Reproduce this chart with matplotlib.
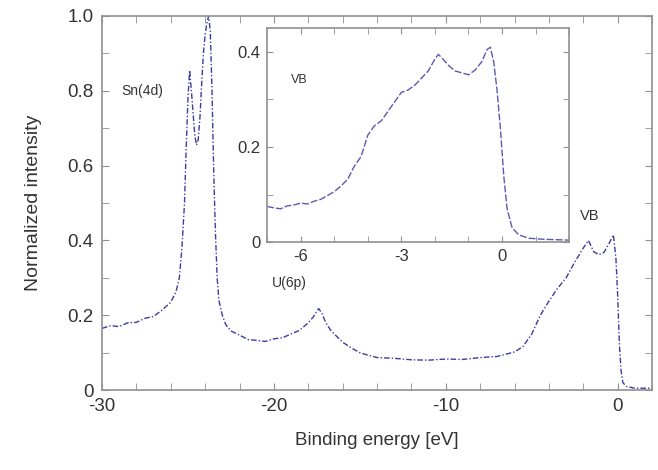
import matplotlib
matplotlib.use("Agg")
import matplotlib.pyplot as plt
from matplotlib.ticker import MultipleLocator

plt.rcParams['font.family'] = ['Liberation Sans', 'DejaVu Sans']
plt.rcParams['axes.unicode_minus'] = False

# Main spectrum
energy = [-30.0, -29.5, -29.0, -28.5, -28.0, -27.5, -27.0, -26.5, -26.0, -25.7,
          -25.5, -25.35, -25.2, -25.1, -25.0, -24.9, -24.8, -24.7, -24.6, -24.5,
          -24.4, -24.3, -24.2, -24.1, -24.0, -23.9, -23.8, -23.7, -23.6, -23.5,
          -23.4, -23.3, -23.2, -23.0, -22.8, -22.5, -22.0, -21.5, -21.0, -20.5,
          -20.0, -19.5, -19.0, -18.5, -18.0, -17.7, -17.4, -17.2, -17.0, -16.7,
          -16.4, -16.0, -15.5, -15.0, -14.5, -14.0, -13.0, -12.0, -11.0, -10.0,
          -9.0, -8.0, -7.0, -6.5, -6.0, -5.5, -5.0, -4.5, -4.0, -3.5,
          -3.0, -2.5, -2.0, -1.7, -1.4, -1.1, -0.8, -0.5, -0.25, -0.1,
          0.0, 0.1, 0.2, 0.3, 0.5, 1.0, 1.5, 2.0]
intensity = [0.165, 0.172, 0.170, 0.180, 0.181, 0.192, 0.197, 0.214, 0.235, 0.262,
             0.300, 0.380, 0.500, 0.650, 0.780, 0.855, 0.800, 0.740, 0.680, 0.655,
             0.670, 0.730, 0.820, 0.900, 0.950, 0.980, 1.000, 0.960, 0.800, 0.580,
             0.420, 0.300, 0.240, 0.200, 0.175, 0.158, 0.147, 0.135, 0.133, 0.130,
             0.137, 0.140, 0.150, 0.160, 0.180, 0.196, 0.218, 0.205, 0.182, 0.160,
             0.146, 0.128, 0.113, 0.100, 0.093, 0.087, 0.085, 0.081, 0.080, 0.083,
             0.082, 0.087, 0.090, 0.096, 0.102, 0.117, 0.150, 0.200, 0.238, 0.272,
             0.300, 0.342, 0.380, 0.400, 0.370, 0.362, 0.368, 0.392, 0.415, 0.350,
             0.250, 0.120, 0.050, 0.020, 0.010, 0.005, 0.005, 0.005]

# Inset: valence band
vb_energy = [-7.0, -6.8, -6.6, -6.4, -6.2, -6.0, -5.8, -5.6, -5.4, -5.2,
             -5.0, -4.8, -4.6, -4.4, -4.2, -4.0, -3.8, -3.6, -3.4, -3.2,
             -3.0, -2.8, -2.6, -2.4, -2.2, -2.0, -1.9, -1.8, -1.6, -1.4,
             -1.2, -1.0, -0.8, -0.6, -0.45, -0.35, -0.25, -0.15, -0.05, 0.05,
             0.15, 0.3, 0.5, 0.8, 1.2, 1.6, 2.0]
vb_intensity = [0.075, 0.072, 0.070, 0.076, 0.078, 0.082, 0.080, 0.086, 0.090, 0.098,
                0.106, 0.118, 0.132, 0.160, 0.180, 0.225, 0.245, 0.255, 0.275, 0.295,
                0.315, 0.320, 0.330, 0.345, 0.360, 0.385, 0.395, 0.388, 0.372, 0.360,
                0.356, 0.352, 0.362, 0.380, 0.405, 0.410, 0.380, 0.320, 0.240, 0.140,
                0.070, 0.030, 0.015, 0.008, 0.006, 0.005, 0.004]

spine_col = '#909090'
text_col = '#333333'

fig = plt.figure(figsize=(6.58, 4.70), dpi=100)
ax = fig.add_axes([0.155, 0.170, 0.836, 0.796])
ax.plot(energy, intensity, color='#3c3ca0', lw=1.0, ls=(0, (4, 1.5, 1, 1.5)))
ax.set_xlim(-30, 2)
ax.set_ylim(0, 1.0)
ax.set_xticks([-30, -20, -10, 0])
ax.set_xticklabels(['-30', '-20', '-10', '0'])
ax.xaxis.set_minor_locator(MultipleLocator(2))
ax.set_yticks([0, 0.2, 0.4, 0.6, 0.8, 1.0])
ax.set_yticklabels(['0', '0.2', '0.4', '0.6', '0.8', '1.0'])
ax.yaxis.set_minor_locator(MultipleLocator(0.1))
for s in ax.spines.values():
    s.set_color(spine_col)
    s.set_linewidth(1.2)
ax.tick_params(which='both', direction='in', top=True, right=True, colors=spine_col,
               labelcolor=text_col, labelsize=13.5, pad=6, length=5)
ax.set_xlabel('Binding energy [eV]', fontsize=13.5, color=text_col, labelpad=12)
ax.set_ylabel('Normalized intensity', fontsize=14, color=text_col, labelpad=18)
ax.text(-28.9, 0.80, 'Sn(4d)', fontsize=10, color=text_col, va='center')
ax.text(-20.1, 0.285, 'U(6p)', fontsize=10, color=text_col, va='center')
ax.text(-2.2, 0.465, 'VB', fontsize=10.5, color=text_col, va='center')

ins = fig.add_axes([0.406, 0.485, 0.459, 0.455])
ins.plot(vb_energy, vb_intensity, color='#5a5ab4', lw=1.0, ls=(0, (5, 1.5)))
ins.set_xlim(-7, 2)
ins.set_ylim(0, 0.45)
ins.set_xticks([-6, -3, 0])
ins.set_xticklabels(['-6', '-3', '0'])
ins.xaxis.set_minor_locator(MultipleLocator(1))
ins.set_yticks([0, 0.2, 0.4])
ins.set_yticklabels(['0', '0.2', '0.4'])
ins.yaxis.set_minor_locator(MultipleLocator(0.1))
for s in ins.spines.values():
    s.set_color(spine_col)
    s.set_linewidth(1.2)
ins.tick_params(which='both', direction='in', top=True, right=True, colors=spine_col,
                labelcolor=text_col, labelsize=12, length=4, pad=5)
ins.text(-6.3, 0.34, 'VB', fontsize=9, color=text_col, va='center')

fig.savefig('out.png', dpi=100)
